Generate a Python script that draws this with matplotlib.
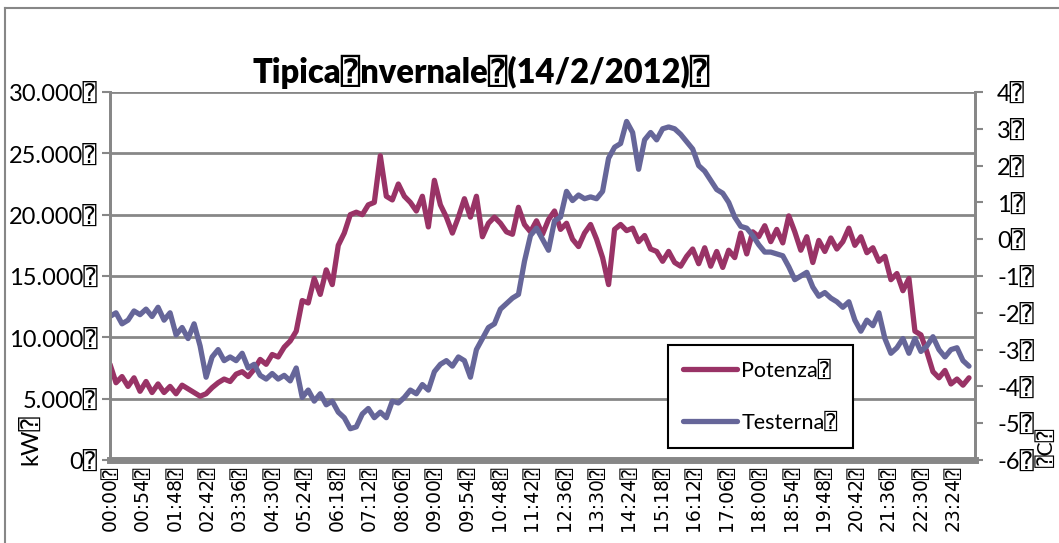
import numpy as np
import matplotlib
matplotlib.use('Agg')
import matplotlib.pyplot as plt
from matplotlib.lines import Line2D

BOX = '\u2370'
plt.rcParams['font.family'] = ['Lato', 'DejaVu Sans', 'DejaVu Sans Mono']

# minutes from midnight, one reading every 10 minutes
minutes = np.arange(0, 1440, 10)

# Potenza (kW)
potenza = [
    7800, 6300, 6800, 6000, 6700, 5600, 6400, 5500, 6200, 5500,
    6000, 5400, 6100, 5800, 5500, 5200, 5400, 5900, 6300, 6600,
    6400, 7000, 7200, 6800, 7400, 8200, 7800, 8600, 8400, 9200,
    9700, 10500, 13000, 12800, 14800, 13500, 15500, 14300, 17500, 18500,
    20000, 20200, 20000, 20800, 21000, 24800, 21500, 21200, 22500, 21500,
    21000, 20300, 21500, 19000, 22800, 20800, 19800, 18500, 19800, 21300,
    19800, 21500, 18200, 19300, 19800, 19300, 18600, 18400, 20600, 19200,
    18600, 19500, 18400, 19600, 20300, 18800, 19300, 18000, 17400, 18500,
    19200, 18000, 16500, 14300, 18800, 19200, 18700, 18900, 17800, 18300,
    17200, 17000, 16200, 17000, 16100, 15800, 16600, 17200, 16000, 17300,
    15800, 17000, 15700, 17100, 16500, 18500, 16800, 18600, 18200, 19100,
    17800, 18800, 17700, 19900, 18600, 17100, 18200, 16100, 17900, 17000,
    18100, 17200, 17800, 18900, 17500, 18200, 16900, 17300, 16200, 16600,
    14700, 15200, 13800, 14800, 10500, 10200, 8800, 7200, 6700, 7300,
    6200, 6600, 6100, 6700,
]

# Testerna (deg C)
testerna = [
    -2.1, -2.0, -2.3, -2.2, -1.95, -2.05, -1.9, -2.1, -1.85, -2.2,
    -2.0, -2.6, -2.4, -2.7, -2.3, -2.9, -3.75, -3.2, -3.0, -3.3,
    -3.2, -3.3, -3.1, -3.5, -3.4, -3.7, -3.8, -3.65, -3.8, -3.7,
    -3.85, -3.5, -4.3, -4.1, -4.4, -4.2, -4.5, -4.4, -4.7, -4.85,
    -5.15, -5.1, -4.75, -4.6, -4.85, -4.7, -4.85, -4.4, -4.45, -4.3,
    -4.1, -4.2, -3.95, -4.1, -3.6, -3.4, -3.3, -3.45, -3.2, -3.3,
    -3.75, -3.0, -2.7, -2.4, -2.3, -1.9, -1.75, -1.6, -1.5, -0.6,
    0.1, 0.3, 0.0, -0.3, 0.5, 0.6, 1.3, 1.05, 1.2, 1.1,
    1.15, 1.1, 1.3, 2.2, 2.5, 2.6, 3.2, 2.9, 1.9, 2.7,
    2.9, 2.7, 3.0, 3.05, 3.0, 2.85, 2.65, 2.45, 2.0, 1.85,
    1.6, 1.35, 1.25, 1.0, 0.6, 0.35, 0.3, 0.1, -0.15, -0.35,
    -0.35, -0.4, -0.45, -0.75, -1.1, -1.0, -0.9, -1.3, -1.55, -1.45,
    -1.6, -1.7, -1.85, -1.7, -2.2, -2.5, -2.2, -2.35, -2.0, -2.7,
    -3.1, -2.95, -2.7, -3.1, -2.7, -3.05, -2.9, -2.65, -3.0, -3.2,
    -3.0, -2.95, -3.3, -3.45,
]

xtick_pos = [i * 54 for i in range(27)]
xtick_labels = ['00:00', '00:54', '01:48', '02:42', '03:36', '04:30', '05:24',
                '06:18', '07:12', '08:06', '09:00', '09:54', '10:48', '11:42',
                '12:36', '13:30', '14:24', '15:18', '16:12', '17:06', '18:00',
                '18:54', '19:48', '20:42', '21:36', '22:30', '23:24']
left_ticks = [0, 5000, 10000, 15000, 20000, 25000, 30000]
left_labels = ['0', '5.000', '10.000', '15.000', '20.000', '25.000', '30.000']
right_ticks = [-6, -5, -4, -3, -2, -1, 0, 1, 2, 3, 4]

grey = '#878787'
c_pot = '#993366'
c_temp = '#666699'

fig = plt.figure(figsize=(10.59, 5.43), dpi=100)
ax = fig.add_axes([110 / 1059, 1 - 460 / 543, 865 / 1059, 368 / 543])
ax2 = ax.twinx()

ax.plot(minutes, potenza, color=c_pot, linewidth=3.8, label='Potenza' + BOX,
        solid_capstyle='round', solid_joinstyle='round')
ax2.plot(minutes, testerna, color=c_temp, linewidth=3.8, label='Testerna' + BOX,
         solid_capstyle='round', solid_joinstyle='round')

ax.set_xlim(0, 1440)
ax.set_ylim(0, 30000)
ax2.set_ylim(-6, 4)

ax.set_yticks(left_ticks)
ax.set_yticklabels([s + BOX for s in left_labels], fontsize=17)
ax2.set_yticks(right_ticks)
ax2.set_yticklabels([str(v) + BOX for v in right_ticks], fontsize=17)
ax.set_xticks(xtick_pos)
ax.set_xticklabels([s + BOX for s in xtick_labels], rotation=90,
                   fontsize=13.5, family=['DejaVu Sans', 'DejaVu Sans Mono'])

ax.grid(axis='y', color=grey, linewidth=2)
ax.set_axisbelow(True)
for a in (ax, ax2):
    for s in a.spines.values():
        s.set_color(grey)
        s.set_linewidth(2)
    a.spines['top'].set_visible(False)
ax.spines['bottom'].set_linewidth(5)
ax2.spines['bottom'].set_visible(False)
ax.tick_params(axis='x', length=0, pad=4)
ax.tick_params(axis='y', direction='out', length=6, width=1.5, color=grey, pad=3)
ax2.tick_params(axis='y', direction='out', length=6, width=1.5, color=grey, pad=10)

fig.text(481 / 1059, 1 - 72 / 543,
         'Tipica' + BOX + 'nvernale' + BOX + '(14/2/2012)' + BOX,
         fontsize=23.5, fontweight='heavy', ha='center', va='center')

fig.text(30 / 1059, 1 - 440 / 543, 'kW' + BOX, rotation=90, fontsize=17,
         ha='center', va='center')
fig.text(1047 / 1059, 1 - 447 / 543, BOX + 'C' + BOX, rotation=90, fontsize=15,
         ha='center', va='center')

h1, l1 = ax.get_legend_handles_labels()
h2, l2 = ax2.get_legend_handles_labels()
leg = ax2.legend(h1 + h2, l1 + l2, loc='upper left',
                 bbox_to_anchor=(668 / 1059, 1 - 345 / 543),
                 bbox_transform=fig.transFigure, fontsize=15.5, frameon=True,
                 fancybox=False, edgecolor='black', framealpha=1,
                 borderaxespad=0, borderpad=0.7, labelspacing=1.5,
                 handlelength=2.5, handletextpad=0.2)
leg.get_frame().set_linewidth(1.5)

# outer chart border (cut off at right and bottom)
fig.add_artist(Line2D([5 / 1059, 1], [1 - 8 / 543, 1 - 8 / 543], color=grey,
                      linewidth=1.5, transform=fig.transFigure))
fig.add_artist(Line2D([5 / 1059, 5 / 1059], [0, 1 - 8 / 543], color=grey,
                      linewidth=1.5, transform=fig.transFigure))

fig.savefig('out.png', dpi=100)
